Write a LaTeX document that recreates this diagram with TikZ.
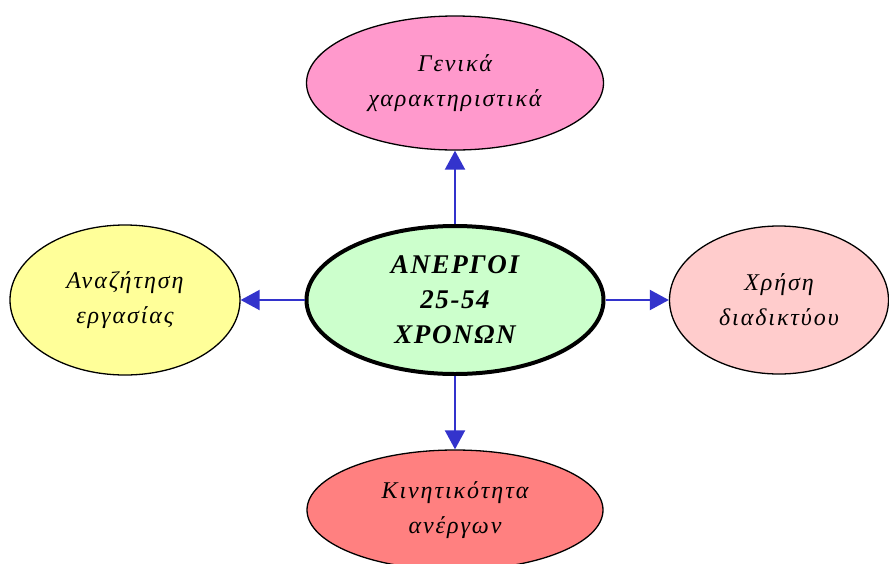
\documentclass[tikz,border=0pt]{standalone}
\usepackage{fontspec}
\setmainfont{Liberation Serif}
\newfontfamily\gkfont[LetterSpace=8]{Liberation Serif}
\newfontfamily\hubfont[LetterSpace=6]{Liberation Serif}
\usetikzlibrary{shapes.geometric,arrows.meta}
\definecolor{pinkA}{HTML}{FF99CC}
\definecolor{greenA}{HTML}{CCFFCC}
\definecolor{yellowA}{HTML}{FFFF99}
\definecolor{roseA}{HTML}{FFCCCC}
\definecolor{redA}{HTML}{FF8080}
\definecolor{arrowblue}{HTML}{3333CC}
\tikzset{
  bubble/.style={ellipse, draw=black, line width=1.3pt, inner sep=0pt, align=center,
    font=\gkfont\fontsize{24}{35}\selectfont\itshape},
  hub/.style={bubble, line width=4pt, font=\hubfont\fontsize{27}{35}\selectfont\bfseries\itshape},
  link/.style={draw=arrowblue, line width=2pt, -{Triangle[length=19pt,width=20pt]}}
}
\begin{document}
\begin{tikzpicture}[x=1pt,y=-1pt]
\useasboundingbox (0,0) rectangle (889,563);
\node[hub, fill=greenA, minimum width=297pt, minimum height=148pt] (c) at (455,300) {ΑΝΕΡΓΟΙ\\25-54\\ΧΡΟΝΩΝ};
\node[bubble, fill=pinkA, minimum width=297pt, minimum height=134pt] (t) at (455,83) {Γενικά\\χαρακτηριστικά};
\node[bubble, fill=yellowA, minimum width=230pt, minimum height=150pt] (l) at (125,300) {Αναζήτηση\\εργασίας};
\node[bubble, fill=roseA, minimum width=219pt, minimum height=148pt] (r) at (779,300) {Χρήση\\διαδικτύου};
\node[bubble, fill=redA, minimum width=296pt, minimum height=120pt] (b) at (455,510) {Κινητικότητα\\ανέργων};
\draw[link] (c.north) -- (t.south);
\draw[link] (c.south) -- (b.north);
\draw[link] (c.west) -- (l.east);
\draw[link] (c.east) -- (r.west);
\end{tikzpicture}
\end{document}
